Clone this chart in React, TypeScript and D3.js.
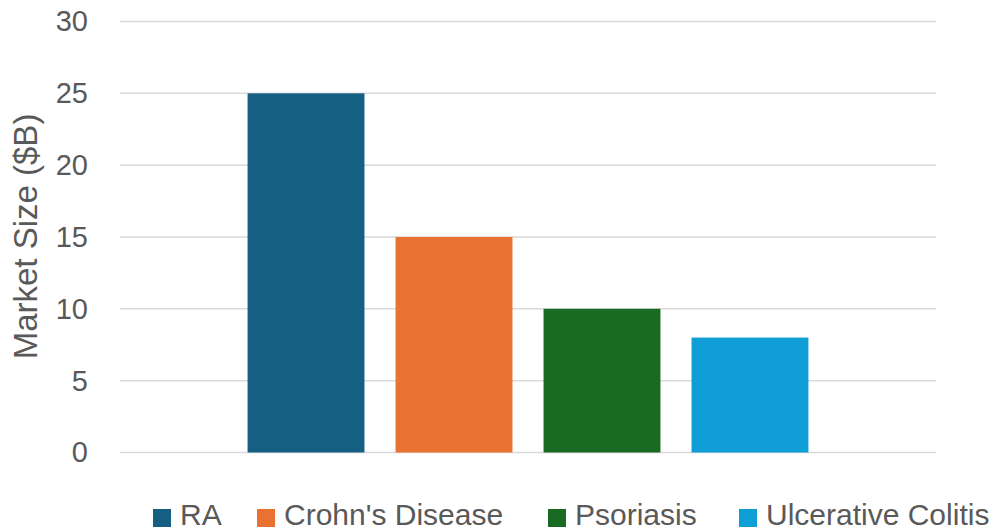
import React from "react";
import * as d3 from "d3";

const categories = ["RA", "Crohn's Disease", "Psoriasis", "Ulcerative Colitis"];
const values = [25, 15, 10, 8];
const colors = ["#156082", "#E97132", "#196B24", "#0F9ED5"];
const yTicks = [0, 5, 10, 15, 20, 25, 30];
const legendX = [153, 257, 548, 739];

const W = 1004;
const H = 528;
const plot = { left: 120, right: 936, top: 21.5, bottom: 452.5 };
const FONT = "'Liberation Sans', Arial, sans-serif";

export default function App() {
  const y = d3.scaleLinear().domain([0, 30]).range([plot.bottom, plot.top]);
  const x = d3
    .scaleBand<string>()
    .domain(categories)
    .range([plot.left, plot.right])
    .paddingInner(0.21)
    .paddingOuter(0.862);

  return (
    <svg
      width={W}
      height={H}
      style={{ position: "absolute", left: 0, top: 0, background: "#fff" }}
      fontFamily={FONT}
    >
      {yTicks.map((t) => (
        <g key={t}>
          <line
            x1={plot.left}
            x2={plot.right}
            y1={y(t)}
            y2={y(t)}
            stroke="#d9d9d9"
            strokeWidth={1.5}
          />
          <text
            x={88}
            y={y(t)}
            dy="0.34em"
            textAnchor="end"
            fontSize={29}
            fill="#595959"
          >
            {t}
          </text>
        </g>
      ))}
      {categories.map((c, i) => (
        <rect
          key={c}
          x={x(c)}
          y={y(values[i])}
          width={x.bandwidth()}
          height={y(0) - y(values[i])}
          fill={colors[i]}
        />
      ))}
      <text
        transform={`translate(37, 236.5) rotate(-90)`}
        textAnchor="middle"
        fontSize={33}
        fill="#595959"
      >
        Market Size ($B)
      </text>
      {categories.map((c, i) => (
        <g key={c}>
          <rect x={legendX[i]} y={509} width={18} height={18} fill={colors[i]} />
          <text x={legendX[i] + 27} y={525} fontSize={30} fill="#595959">
            {c}
          </text>
        </g>
      ))}
    </svg>
  );
}
